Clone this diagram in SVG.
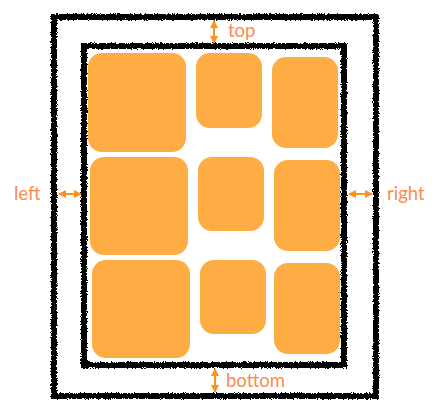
<svg xmlns="http://www.w3.org/2000/svg" width="438" height="418" viewBox="0 0 438 418">
<defs>
<filter id="rough" x="-5%" y="-5%" width="110%" height="110%">
<feTurbulence type="fractalNoise" baseFrequency="1.4" numOctaves="2" seed="3" result="n"/>
<feDisplacementMap in="SourceGraphic" in2="n" scale="4" xChannelSelector="R" yChannelSelector="G"/>
</filter>
<marker id="head" viewBox="0 0 8 8" refX="7" refY="4" markerWidth="8" markerHeight="8" orient="auto-start-reverse" markerUnits="userSpaceOnUse">
<path d="M0,0 L8,4 L0,8 z" fill="#F7931E"/>
</marker>
</defs>
<style>
.frame{fill:none;stroke:#000;stroke-width:6;filter:url(#rough)}
.box{fill:#FDAD43}
.arr{stroke:#F7931E;stroke-width:2;fill:none;marker-start:url(#head);marker-end:url(#head)}
.lbl{font-family:Lato,"Open Sans","Liberation Sans",sans-serif;font-size:18.5px;fill:#F98C50}
</style>
<rect width="438" height="418" fill="#fff"/>
<g id="outer"><rect class="frame" x="54" y="17" width="322" height="379"/></g>
<g id="inner"><rect class="frame" x="84" y="46" width="260" height="319"/></g>
<g id="box1"><rect class="box" x="88" y="53" width="98" height="99" rx="14"/></g>
<g id="box2"><rect class="box" x="196" y="53" width="66" height="75" rx="14"/></g>
<g id="box3"><rect class="box" x="272" y="57" width="66" height="91" rx="14"/></g>
<g id="box4"><rect class="box" x="90" y="157" width="98" height="98" rx="14"/></g>
<g id="box5"><rect class="box" x="198" y="157" width="66" height="74" rx="14"/></g>
<g id="box6"><rect class="box" x="274" y="160" width="66" height="91" rx="14"/></g>
<g id="box7"><rect class="box" x="92" y="260" width="98" height="98" rx="14"/></g>
<g id="box8"><rect class="box" x="200" y="260" width="66" height="74" rx="14"/></g>
<g id="box9"><rect class="box" x="274" y="263" width="66" height="91" rx="14"/></g>
<g id="connectors">
<line class="arr" x1="214" y1="21" x2="214" y2="43"/>
<line class="arr" x1="59" y1="194" x2="81" y2="194"/>
<line class="arr" x1="349" y1="194" x2="372" y2="194"/>
<line class="arr" x1="215" y1="369" x2="215" y2="392"/>
</g>
<g id="labels">
<text class="lbl" x="228" y="37">top</text>
<text class="lbl" x="14" y="200">left</text>
<text class="lbl" x="387" y="200">right</text>
<text class="lbl" x="226" y="387">bottom</text>
</g>
</svg>
